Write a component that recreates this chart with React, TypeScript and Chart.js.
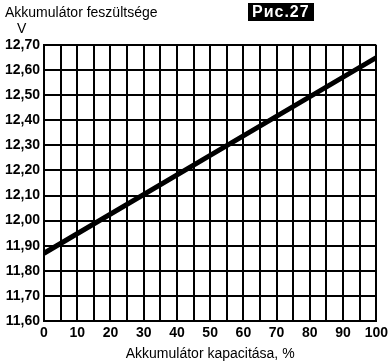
import React, { useEffect, useRef } from "react";
import { Chart, registerables } from "chart.js";

Chart.register(...registerables);

const capacity = [0, 50, 100];
const voltage = [11.87, 12.26, 12.65];
const yTitle = "Akkumulátor feszültsége";
const yUnit = "V";
const xTitle = "Akkumulátor kapacitása, %";
const figLabel = "Рис.27";

export default function App() {
  const ref = useRef<HTMLCanvasElement | null>(null);
  useEffect(() => {
    document.body.style.margin = "0";
    const ctx = ref.current!.getContext("2d")!;
    const chart = new Chart(ctx, {
      type: "scatter",
      data: {
        datasets: [
          {
            data: capacity.map((x, i) => ({ x, y: voltage[i] })),
            showLine: true,
            borderColor: "#000",
            borderWidth: 5,
            pointRadius: 0,
            tension: 0,
          },
        ],
      },
      options: {
        animation: false,
        responsive: false,
        maintainAspectRatio: false,
        layout: { padding: { top: 45, right: 14, left: 0, bottom: 0 } },
        plugins: { legend: { display: false }, tooltip: { enabled: false } },
        scales: {
          x: {
            type: "linear",
            min: 0,
            max: 100,
            afterFit: (s: any) => {
              s.height = 42;
            },
            ticks: {
              stepSize: 5,
              autoSkip: false,
              maxRotation: 0,
              color: "#000",
              padding: 4,
              font: { family: "Liberation Sans", size: 14, weight: "bold" },
              callback: (v: any) => (Number(v) % 10 === 0 ? String(v) : ""),
            },
            grid: { color: "#000", lineWidth: 2, drawTicks: false },
            border: { color: "#000", width: 2 },
            title: {
              display: true,
              text: xTitle,
              color: "#000",
              padding: { top: 1, bottom: 0 },
              font: { family: "Liberation Sans", size: 14 },
            },
          },
          y: {
            min: 11.6,
            max: 12.7,
            afterFit: (s: any) => {
              s.width = 44;
            },
            ticks: {
              stepSize: 0.1,
              autoSkip: false,
              color: "#000",
              padding: 4,
              font: { family: "Liberation Sans", size: 14, weight: "bold" },
              callback: (v: any) => Number(v).toFixed(2).replace(".", ","),
            },
            grid: { color: "#000", lineWidth: 2, drawTicks: false },
            border: { color: "#000", width: 2 },
          },
        },
      },
    });
    return () => chart.destroy();
  }, []);
  return (
    <div style={{ position: "relative", width: 392, height: 363, background: "#fff" }}>
      <canvas ref={ref} width={392} height={363} style={{ display: "block" }} />
      <div
        style={{
          position: "absolute",
          left: 5,
          top: 4,
          fontFamily: "Liberation Sans",
          fontSize: 14,
          lineHeight: "16px",
          color: "#000",
        }}
      >
        {yTitle}
      </div>
      <div
        style={{
          position: "absolute",
          left: 17,
          top: 20,
          fontFamily: "Liberation Sans",
          fontSize: 14,
          lineHeight: "16px",
          color: "#000",
        }}
      >
        {yUnit}
      </div>
      <div
        style={{
          position: "absolute",
          left: 248,
          top: 3,
          padding: "0 4px",
          background: "#000",
          color: "#fff",
          fontFamily: "Liberation Sans",
          fontWeight: "bold",
          fontSize: 16,
          lineHeight: "18px",
          letterSpacing: 1,
        }}
      >
        {figLabel}
      </div>
    </div>
  );
}
